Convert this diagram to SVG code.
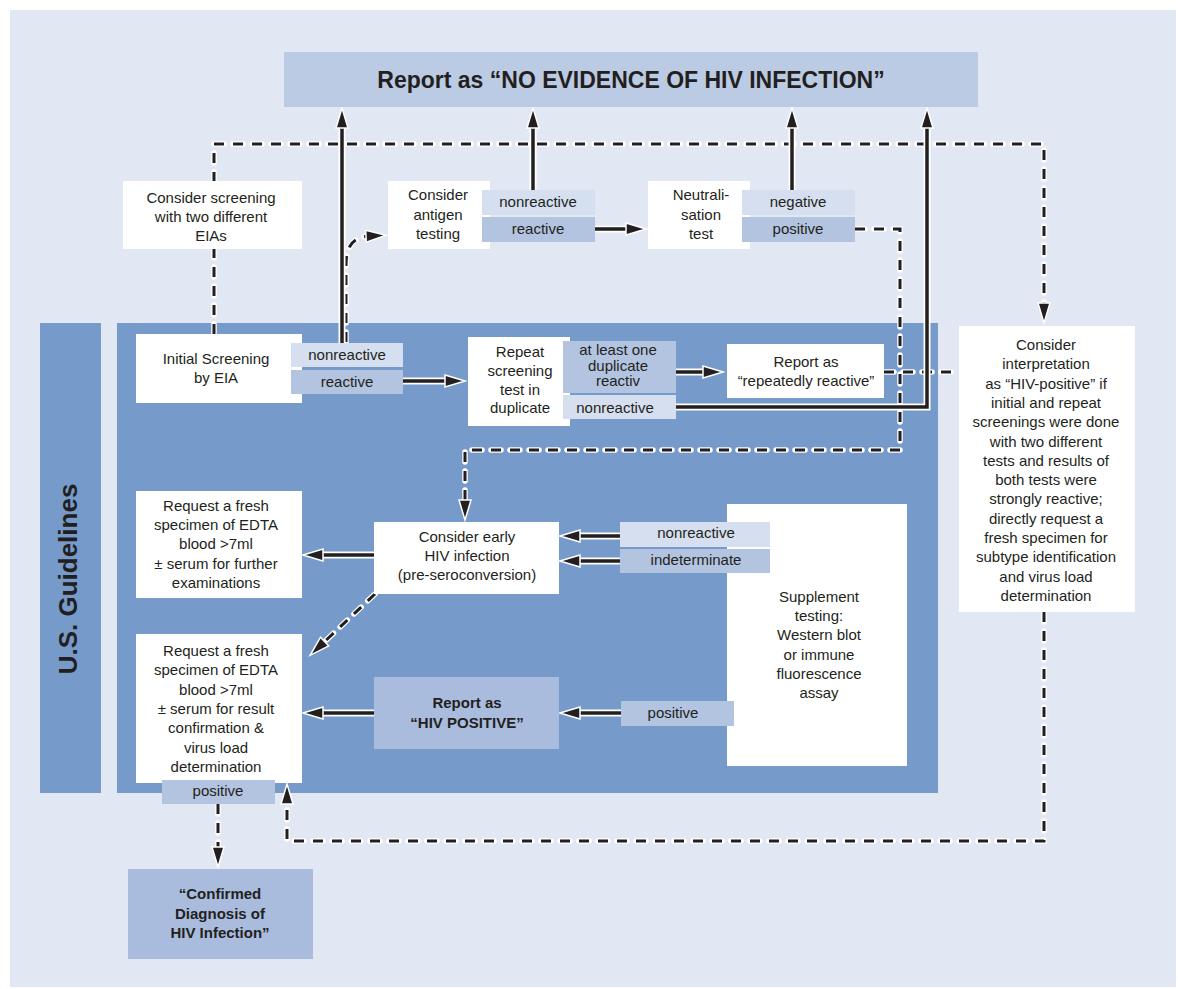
<svg xmlns="http://www.w3.org/2000/svg" width="1178" height="989" viewBox="0 0 1178 989">
<style>
text{font-family:"Liberation Sans",Arial,sans-serif;font-size:15px;fill:#231F20;text-anchor:middle}
.b{font-weight:bold}
.box{fill:#FFFFFF}
.l1{fill:#D6DFEF}
.l2{fill:#B3C4E0}
.rep{fill:#A9BCDE}
.halo{fill:none;stroke:#FFFFFF;stroke-width:7}
.sol{fill:none;stroke:#231F20;stroke-width:3.5}
.dh{fill:none;stroke:#FFFFFF;stroke-width:5.5;stroke-dasharray:10 9;stroke-linecap:round}
.dl{fill:none;stroke:#231F20;stroke-width:3;stroke-dasharray:10 9}
</style>
<defs>
<marker id="ah" markerUnits="userSpaceOnUse" markerWidth="24" markerHeight="16" viewBox="-2 -2 24 16" refX="5" refY="6" orient="auto">
<path d="M0,0 L20,6 L0,12 Z" fill="#231F20" stroke="#FFFFFF" stroke-width="1.5" stroke-dasharray="none"/>
</marker>
</defs>
<rect x="10" y="10" width="1166" height="977" fill="#E1E8F3"/>
<g id="panel">
<rect x="40" y="323" width="61" height="470" fill="#769BCB"/>
<rect x="117" y="323" width="821" height="470" fill="#769BCB"/>
<text class="b" transform="translate(77,579) rotate(-90)" style="font-size:26px">U.S. Guidelines</text>
</g>
<g id="connectors">
<path class="dh" d="M214,334 L214,144 L1044,144 L1044,308"/>
<path class="dh" d="M855,229 L900,229 L900,450 L465,450 L465,505"/>
<path class="dh" d="M884,372 L958,372"/>
<path class="dh" d="M1044,612 L1044,841 L287,841 L287,799"/>
<path class="dh" d="M346,342 L346,266 C346,246 352,237 371,236"/>
<path class="dh" d="M375,594 L321,645"/>
<path class="dh" d="M218,804 L218,852"/>
<path class="dl" d="M214,334 L214,144 L1044,144 L1044,308" marker-end="url(#ah)"/>
<path class="dl" d="M855,229 L900,229 L900,450 L465,450 L465,505" marker-end="url(#ah)"/>
<path class="dl" d="M884,372 L958,372"/>
<path class="dl" d="M1044,612 L1044,841 L287,841 L287,799" marker-end="url(#ah)"/>
<path class="dl" d="M346,342 L346,266 C346,246 352,237 371,236" marker-end="url(#ah)"/>
<path class="dl" d="M375,594 L321,645" marker-end="url(#ah)"/>
<path class="dl" d="M218,804 L218,852" marker-end="url(#ah)"/>
<path class="halo" d="M342,343 L342,123"/>
<path class="halo" d="M533,190 L533,123"/>
<path class="halo" d="M792,190 L792,123"/>
<path class="halo" d="M676,407 L927,407 L927,123"/>
<path class="halo" d="M595,229 L631,229"/>
<path class="halo" d="M403,381 L450,381"/>
<path class="halo" d="M676,372 L708,372"/>
<path class="halo" d="M374,555 L318,555"/>
<path class="halo" d="M374,713 L318,713"/>
<path class="halo" d="M620,536 L575,536"/>
<path class="halo" d="M620,561 L575,561"/>
<path class="halo" d="M621,713 L575,713"/>
<path class="sol" d="M342,343 L342,123" marker-end="url(#ah)"/>
<path class="sol" d="M533,190 L533,123" marker-end="url(#ah)"/>
<path class="sol" d="M792,190 L792,123" marker-end="url(#ah)"/>
<path class="sol" d="M676,407 L927,407 L927,123" marker-end="url(#ah)"/>
<path class="sol" d="M595,229 L631,229" marker-end="url(#ah)"/>
<path class="sol" d="M403,381 L450,381" marker-end="url(#ah)"/>
<path class="sol" d="M676,372 L708,372" marker-end="url(#ah)"/>
<path class="sol" d="M374,555 L318,555" marker-end="url(#ah)"/>
<path class="sol" d="M374,713 L318,713" marker-end="url(#ah)"/>
<path class="sol" d="M620,536 L575,536" marker-end="url(#ah)"/>
<path class="sol" d="M620,561 L575,561" marker-end="url(#ah)"/>
<path class="sol" d="M621,713 L575,713" marker-end="url(#ah)"/>
</g>
<g id="no-evidence">
<rect x="284" y="52" width="694" height="55" fill="#BCCBE4"/>
<text class="b" x="631" y="88" style="font-size:23px">Report as “NO EVIDENCE OF HIV INFECTION”</text>
</g>
<g id="two-eias">
<rect class="box" x="123" y="181" width="179" height="68"/>
<text x="211" y="203">Consider screening</text>
<text x="211" y="222">with two different</text>
<text x="211" y="241">EIAs</text>
</g>
<g id="antigen">
<rect class="box" x="388" y="181" width="102" height="68"/>
<text x="438" y="200">Consider</text>
<text x="438" y="220">antigen</text>
<text x="438" y="239">testing</text>
<rect class="l1" x="482" y="190" width="113" height="25"/>
<text x="538" y="207">nonreactive</text>
<rect class="l2" x="482" y="217" width="113" height="25"/>
<text x="538" y="234">reactive</text>
</g>
<g id="neutralisation">
<rect class="box" x="648" y="181" width="102" height="68"/>
<text x="701" y="200">Neutrali-</text>
<text x="701" y="220">sation</text>
<text x="701" y="239">test</text>
<rect class="l1" x="742" y="190" width="113" height="25"/>
<text x="798" y="207">negative</text>
<rect class="l2" x="742" y="217" width="113" height="25"/>
<text x="798" y="234">positive</text>
</g>
<g id="initial-screening">
<rect class="box" x="136" y="334" width="166" height="69"/>
<text x="216" y="364">Initial Screening</text>
<text x="216" y="383">by EIA</text>
<rect class="l1" x="291" y="343" width="112" height="24"/>
<text x="347" y="360">nonreactive</text>
<rect class="l2" x="291" y="370" width="112" height="24"/>
<text x="347" y="387">reactive</text>
</g>
<g id="repeat-screening">
<rect class="box" x="468" y="337" width="102" height="89"/>
<text x="520" y="357">Repeat</text>
<text x="520" y="376">screening</text>
<text x="520" y="395">test in</text>
<text x="520" y="413">duplicate</text>
<rect class="l2" x="563" y="341" width="113" height="52"/>
<text x="618" y="355">at least one</text>
<text x="618" y="371">duplicate</text>
<text x="618" y="386">reactiv</text>
<rect class="l1" x="563" y="395" width="113" height="24"/>
<text x="615" y="413">nonreactive</text>
</g>
<g id="repeatedly-reactive">
<rect class="box" x="727" y="344" width="157" height="54"/>
<text x="806" y="367">Report as</text>
<text x="806" y="386">“repeatedly reactive”</text>
</g>
<g id="hiv-positive-interpretation">
<rect class="box" x="959" y="326" width="176" height="286"/>
<text x="1046" y="350">Consider</text>
<text x="1046" y="369.3">interpretation</text>
<text x="1046" y="388.6">as “HIV-positive” if</text>
<text x="1046" y="407.9">initial and repeat</text>
<text x="1046" y="427.2">screenings were done</text>
<text x="1046" y="446.5">with two different</text>
<text x="1046" y="465.8">tests and results of</text>
<text x="1046" y="485.1">both tests were</text>
<text x="1046" y="504.4">strongly reactive;</text>
<text x="1046" y="523.7">directly request a</text>
<text x="1046" y="543">fresh specimen for</text>
<text x="1046" y="562.3">subtype identification</text>
<text x="1046" y="581.6">and virus load</text>
<text x="1046" y="601">determination</text>
</g>
<g id="request-further">
<rect class="box" x="136" y="491" width="166" height="107"/>
<text x="216" y="511">Request a fresh</text>
<text x="216" y="530">specimen of EDTA</text>
<text x="216" y="549">blood &gt;7ml</text>
<text x="216" y="569">± serum for further</text>
<text x="216" y="588">examinations</text>
</g>
<g id="early-infection">
<rect class="box" x="374" y="522" width="185" height="72"/>
<text x="467" y="542">Consider early</text>
<text x="467" y="561">HIV infection</text>
<text x="467" y="580">(pre-seroconversion)</text>
</g>
<g id="request-confirmation">
<rect class="box" x="136" y="634" width="166" height="149"/>
<text x="216" y="656">Request a fresh</text>
<text x="216" y="675.3">specimen of EDTA</text>
<text x="216" y="694.6">blood &gt;7ml</text>
<text x="216" y="713.9">± serum for result</text>
<text x="216" y="733.2">confirmation &amp;</text>
<text x="216" y="752.5">virus load</text>
<text x="216" y="772">determination</text>
<rect class="l2" x="162" y="780" width="113" height="24"/>
<text x="218" y="796">positive</text>
</g>
<g id="report-hiv-positive">
<rect class="rep" x="374" y="677" width="185" height="72"/>
<text class="b" x="467" y="708">Report as</text>
<text class="b" x="467" y="728">“HIV POSITIVE”</text>
</g>
<g id="supplement">
<rect class="box" x="727" y="504" width="180" height="262"/>
<text x="819" y="602">Supplement</text>
<text x="819" y="621">testing:</text>
<text x="819" y="640">Western blot</text>
<text x="819" y="660">or immune</text>
<text x="819" y="679">fluorescence</text>
<text x="819" y="698">assay</text>
<rect class="l1" x="620" y="522" width="150" height="25"/>
<text x="696" y="538">nonreactive</text>
<rect class="l2" x="620" y="549" width="150" height="24"/>
<text x="696" y="565">indeterminate</text>
<rect class="l2" x="621" y="701" width="113" height="25"/>
<text x="673" y="718">positive</text>
</g>
<g id="confirmed">
<rect class="rep" x="128" y="869" width="185" height="90"/>
<text class="b" x="220" y="899">“Confirmed</text>
<text class="b" x="220" y="919">Diagnosis of</text>
<text class="b" x="220" y="938">HIV Infection”</text>
</g>
</svg>
